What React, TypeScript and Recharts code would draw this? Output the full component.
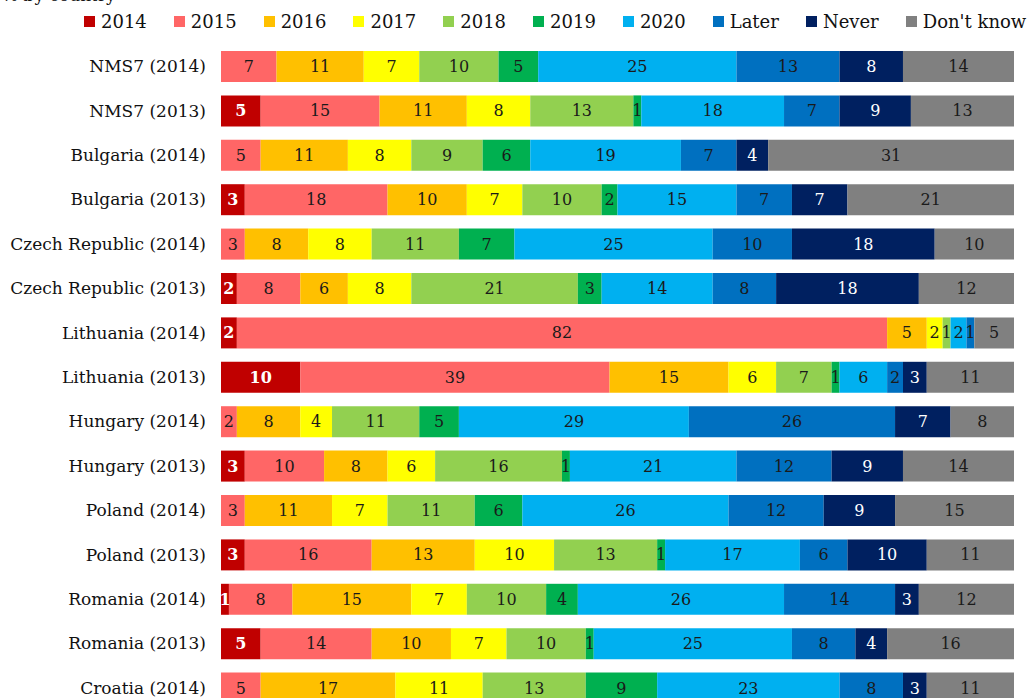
import { Bar, BarChart, LabelList, Legend, XAxis, YAxis } from "recharts";

const categories = [
  "NMS7 (2014)",
  "NMS7 (2013)",
  "Bulgaria (2014)",
  "Bulgaria (2013)",
  "Czech Republic (2014)",
  "Czech Republic (2013)",
  "Lithuania (2014)",
  "Lithuania (2013)",
  "Hungary (2014)",
  "Hungary (2013)",
  "Poland (2014)",
  "Poland (2013)",
  "Romania (2014)",
  "Romania (2013)",
  "Croatia (2014)",
];

const seriesNames = ["2014", "2015", "2016", "2017", "2018", "2019", "2020", "Later", "Never", "Don't know"];

const v2014 = [0, 5, 0, 3, 0, 2, 2, 10, 0, 3, 0, 3, 1, 5, 0];
const v2015 = [7, 15, 5, 18, 3, 8, 82, 39, 2, 10, 3, 16, 8, 14, 5];
const v2016 = [11, 11, 11, 10, 8, 6, 5, 15, 8, 8, 11, 13, 15, 10, 17];
const v2017 = [7, 8, 8, 7, 8, 8, 2, 6, 4, 6, 7, 10, 7, 7, 11];
const v2018 = [10, 13, 9, 10, 11, 21, 1, 7, 11, 16, 11, 13, 10, 10, 13];
const v2019 = [5, 1, 6, 2, 7, 3, 0, 1, 5, 1, 6, 1, 4, 1, 9];
const v2020 = [25, 18, 19, 15, 25, 14, 2, 6, 29, 21, 26, 17, 26, 25, 23];
const vLater = [13, 7, 7, 7, 10, 8, 1, 2, 26, 12, 12, 6, 14, 8, 8];
const vNever = [8, 9, 4, 7, 18, 18, 0, 3, 7, 9, 9, 10, 3, 4, 3];
const vDontKnow = [14, 13, 31, 21, 10, 12, 5, 11, 8, 14, 15, 11, 12, 16, 11];

const seriesValues = [v2014, v2015, v2016, v2017, v2018, v2019, v2020, vLater, vNever, vDontKnow];
const colors = ["#C00000", "#FF6666", "#FFC000", "#FFFF00", "#92D050", "#00B050", "#00B0F0", "#0070C0", "#002060", "#808080"];
const labelColors = ["#ffffff", "#1a1a1a", "#1a1a1a", "#1a1a1a", "#1a1a1a", "#1a1a1a", "#1a1a1a", "#1a1a1a", "#ffffff", "#1a1a1a"];

const keys = seriesNames.map((_, i) => `s${i}`);

const data = categories.map((name, r) => {
  const row: Record<string, string | number> = { name };
  seriesValues.forEach((vals, i) => {
    row[keys[i]] = vals[r];
  });
  return row;
});

const font = "'DejaVu Serif', serif";

function LegendContent() {
  return (
    <div style={{ display: "flex", gap: 27, fontFamily: font, fontSize: 18, color: "#111" }}>
      {seriesNames.map((n, i) => (
        <div key={n} style={{ display: "flex", alignItems: "center", gap: 6 }}>
          <span style={{ width: 11, height: 11, background: colors[i], display: "inline-block" }} />
          <span>{n}</span>
        </div>
      ))}
    </div>
  );
}

// draws the value centred on its segment
function makeLabel(color: string, bold: boolean) {
  return (props: any) => {
    const { x, y, width, height, value } = props;
    if (value === undefined || value === null) return null;
    return (
      <text
        x={Number(x) + Number(width) / 2}
        y={Number(y) + Number(height) / 2}
        textAnchor="middle"
        dominantBaseline="central"
        fill={color}
        style={{ fontFamily: font, fontSize: 16, fontWeight: bold ? "bold" : "normal" }}
      >
        {value}
      </text>
    );
  };
}

export default function App() {
  return (
    <div style={{ position: "fixed", top: 0, left: 0, width: 1030, height: 698, overflow: "hidden", background: "#fff" }}>
      <div style={{ position: "absolute", top: -15, left: 2, fontFamily: font, fontSize: 17, color: "#111" }}>
        % by country
      </div>
      <BarChart
        width={1030}
        height={710}
        data={data}
        layout="vertical"
        barSize={31}
        margin={{ top: 44, right: 16, bottom: 0, left: 0 }}
      >
        <XAxis type="number" domain={[0, 100]} hide />
        <YAxis
          type="category"
          dataKey="name"
          width={221}
          axisLine={false}
          tickLine={false}
          tickSize={0}
          tickMargin={15}
          interval={0}
          tick={{ fontFamily: font, fontSize: 17, fill: "#111" }}
        />
        <Legend
          verticalAlign="middle"
          align="center"
          layout="horizontal"
          wrapperStyle={{ top: 11, left: 84, width: "auto" }}
          content={<LegendContent />}
        />
        {keys.map((k, i) => (
          <Bar key={k} dataKey={k} name={seriesNames[i]} stackId="a" fill={colors[i]} isAnimationActive={false}>
            <LabelList dataKey={k} content={makeLabel(labelColors[i], i === 0)} />
          </Bar>
        ))}
      </BarChart>
    </div>
  );
}
